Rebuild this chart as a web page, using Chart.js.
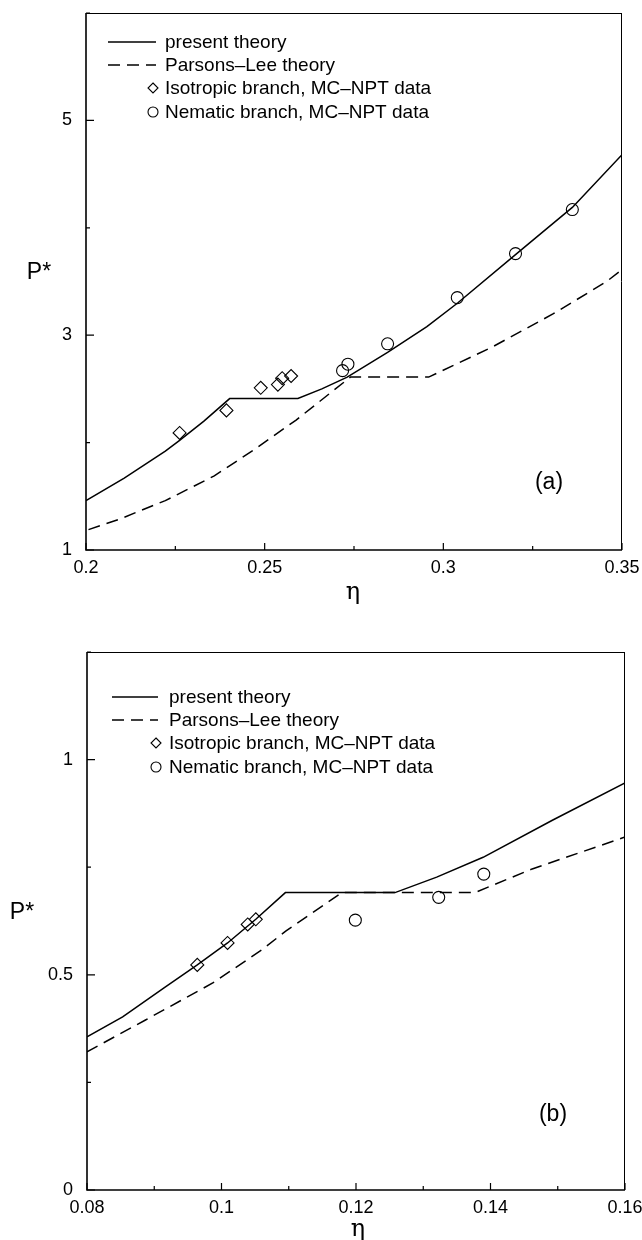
<!DOCTYPE html>
<html>
<head>
<meta charset="utf-8">
<script src="https://cdn.jsdelivr.net/npm/chart.js@4.4.0/dist/chart.umd.min.js"></script>
<style>
  html, body { margin: 0; padding: 0; background: #fff; }
  .wrap { position: absolute; left: 0; width: 642px; height: 620px; }
  #wrapA { top: 0; }
  #wrapB { top: 620px; }
</style>
</head>
<body>
<div class="wrap" id="wrapA"><canvas id="chartA" width="642" height="620"></canvas></div>
<div class="wrap" id="wrapB"><canvas id="chartB" width="642" height="620"></canvas></div>
<script>
// ---- panel (a) data ----
const etaPresentA = [0.200, 0.2107, 0.2222, 0.2262, 0.2330, 0.2402, 0.2593, 0.2660, 0.2731, 0.2844, 0.2954, 0.3040, 0.3202, 0.3361, 0.350];
const pPresentA   = [1.46, 1.67, 1.92, 2.02, 2.20, 2.41, 2.41, 2.50, 2.61, 2.84, 3.08, 3.30, 3.75, 4.19, 4.68];
const etaPLA = [0.2007, 0.2096, 0.2222, 0.2359, 0.2473, 0.2588, 0.2740, 0.2959, 0.3137, 0.3308, 0.3457, 0.350];
const pPLA   = [1.19, 1.29, 1.46, 1.69, 1.94, 2.21, 2.61, 2.61, 2.89, 3.20, 3.50, 3.61];
const etaIsoA = [0.2262, 0.2393, 0.2489, 0.2537, 0.2549, 0.2574];
const pIsoA   = [2.09, 2.30, 2.51, 2.54, 2.60, 2.62];
const etaNemA = [0.2718, 0.2733, 0.2844, 0.3039, 0.3202, 0.3361];
const pNemA   = [2.67, 2.73, 2.92, 3.35, 3.76, 4.17];
const xTicksA = [0.2, 0.225, 0.25, 0.275, 0.3, 0.325, 0.35];
const xLabelsA = ['0.2', '', '0.25', '', '0.3', '', '0.35'];
const yTicksA = [1, 2, 3, 4, 5, 6];
const yLabelsA = ['1', '', '3', '', '5', ''];

// ---- panel (b) data ----
const etaPresentB = [0.080, 0.0853, 0.0914, 0.0964, 0.1009, 0.1051, 0.1095, 0.1258, 0.1320, 0.1389, 0.1492, 0.160];
const pPresentB   = [0.356, 0.402, 0.469, 0.523, 0.574, 0.629, 0.691, 0.691, 0.727, 0.773, 0.859, 0.946];
const etaPLB = [0.080, 0.0887, 0.0987, 0.106, 0.1096, 0.1179, 0.1377, 0.1462, 0.160];
const pPLB   = [0.321, 0.395, 0.481, 0.558, 0.602, 0.691, 0.691, 0.746, 0.820];
const etaIsoB = [0.0964, 0.1009, 0.1039, 0.1051];
const pIsoB   = [0.523, 0.574, 0.617, 0.629];
const etaNemB = [0.1199, 0.1323, 0.1390];
const pNemB   = [0.627, 0.680, 0.734];
const xTicksB = [0.08, 0.09, 0.10, 0.11, 0.12, 0.13, 0.14, 0.15, 0.16];
const xLabelsB = ['0.08', '', '0.1', '', '0.12', '', '0.14', '', '0.16'];
const yTicksB = [0, 0.25, 0.5, 0.75, 1, 1.25];
const yLabelsB = ['0', '', '0.5', '', '1', ''];

const seriesNames = ['present theory', 'Parsons\u2013Lee theory', 'Isotropic branch, MC\u2013NPT data', 'Nematic branch, MC\u2013NPT data'];

Chart.defaults.font.family = "'Liberation Sans', Arial, Helvetica, sans-serif";
Chart.defaults.font.size = 18;
Chart.defaults.color = '#000';

function pts(xs, ys) {
  return xs.map((x, i) => ({ x: x, y: ys[i] }));
}

// frame, inward tick marks, legend and free labels
const decor = {
  id: 'decor',
  afterDatasetsDraw(chart, args, o) {
    const ctx = chart.ctx, a = chart.chartArea;
    const xs = chart.scales.x, ys = chart.scales.y;
    ctx.save();
    ctx.strokeStyle = '#000';
    // frame
    ctx.lineWidth = 1;
    ctx.beginPath();
    ctx.moveTo(a.left, a.top + 0.5); ctx.lineTo(a.right, a.top + 0.5);
    ctx.moveTo(a.right - 0.5, a.top); ctx.lineTo(a.right - 0.5, a.bottom);
    ctx.stroke();
    ctx.lineWidth = 1.6;
    ctx.beginPath();
    ctx.moveTo(a.left, a.top); ctx.lineTo(a.left, a.bottom);
    ctx.lineTo(a.right, a.bottom);
    ctx.stroke();
    // ticks
    ctx.lineWidth = 1.2;
    ctx.beginPath();
    xs.ticks.forEach(t => {
      const px = xs.getPixelForValue(t.value);
      const len = t.label ? 7 : 4;
      ctx.moveTo(px, a.bottom); ctx.lineTo(px, a.bottom - len);
    });
    ys.ticks.forEach(t => {
      const py = ys.getPixelForValue(t.value);
      const len = t.label ? 8 : 4;
      ctx.moveTo(a.left, py); ctx.lineTo(a.left + len, py);
    });
    ctx.stroke();

    // legend
    ctx.font = "19px 'Liberation Sans', Arial, sans-serif";
    ctx.textBaseline = 'middle';
    ctx.textAlign = 'left';
    ctx.fillStyle = '#000';
    chart.data.datasets.forEach((ds, i) => {
      const y = o.rows[i];
      ctx.lineWidth = 1.5;
      if (ds.showLine === false) {
        ctx.lineWidth = 1.1;
        ctx.beginPath();
        if (ds.pointStyle === 'rectRot') {
          const r = 5;
          ctx.moveTo(o.sym, y - r); ctx.lineTo(o.sym + r, y);
          ctx.lineTo(o.sym, y + r); ctx.lineTo(o.sym - r, y); ctx.closePath();
        } else {
          ctx.arc(o.sym, y, 5, 0, Math.PI * 2);
        }
        ctx.stroke();
      } else {
        ctx.setLineDash(ds.borderDash || []);
        ctx.beginPath();
        ctx.moveTo(o.line[0], y); ctx.lineTo(o.line[1], y);
        ctx.stroke();
        ctx.setLineDash([]);
      }
      ctx.fillText(ds.label, o.text, y + 1);
    });

    // axis names and panel label
    ctx.textAlign = 'center';
    ctx.font = "23px 'Liberation Sans', Arial, sans-serif";
    ctx.fillText('P*', o.pstar[0], o.pstar[1]);
    ctx.font = "24px 'DejaVu Serif', serif";
    ctx.fillText('\u03b7', o.eta[0], o.eta[1]);
    ctx.font = "23px 'Liberation Sans', Arial, sans-serif";
    ctx.fillText(o.panel, o.panelPos[0], o.panelPos[1]);
    ctx.restore();
  }
};

function makeChart(id, d) {
  return new Chart(document.getElementById(id).getContext('2d'), {
    type: 'line',
    data: {
      datasets: [
        { label: seriesNames[0], data: pts(d.presX, d.presY), borderColor: '#000', borderWidth: 1.5, pointRadius: 0, tension: 0 },
        { label: seriesNames[1], data: pts(d.plX, d.plY), borderColor: '#000', borderWidth: 1.5, borderDash: [12, 7], pointRadius: 0, tension: 0 },
        { label: seriesNames[2], data: pts(d.isoX, d.isoY), showLine: false, pointStyle: 'rectRot', pointRadius: 6.5,
          pointBorderWidth: 1.1, pointBorderColor: '#000', pointBackgroundColor: 'rgba(0,0,0,0)' },
        { label: seriesNames[3], data: pts(d.nemX, d.nemY), showLine: false, pointStyle: 'circle', pointRadius: 6,
          pointBorderWidth: 1.1, pointBorderColor: '#000', pointBackgroundColor: 'rgba(0,0,0,0)' }
      ]
    },
    options: {
      responsive: false,
      animation: false,
      events: [],
      layout: { padding: d.pad },
      plugins: {
        legend: { display: false },
        tooltip: { enabled: false },
        decor: d.decor
      },
      scales: {
        x: {
          type: 'linear', min: d.xTicks[0], max: d.xTicks[d.xTicks.length - 1],
          grid: { display: false, drawTicks: false },
          border: { display: false },
          afterBuildTicks: s => { s.ticks = d.xTicks.map(v => ({ value: v })); },
          ticks: { autoSkip: false, maxRotation: 0, padding: 7, callback: (v, i) => d.xLabels[i] },
          afterFit: s => { s.height = d.xH; s.paddingLeft = 0; s.paddingRight = 0; }
        },
        y: {
          type: 'linear', min: d.yTicks[0], max: d.yTicks[d.yTicks.length - 1],
          grid: { display: false, drawTicks: false },
          border: { display: false },
          afterBuildTicks: s => { s.ticks = d.yTicks.map(v => ({ value: v })); },
          ticks: { autoSkip: false, padding: 14, callback: (v, i) => d.yLabels[i] },
          afterFit: s => { s.width = d.yW; s.paddingTop = 0; s.paddingBottom = 0; }
        }
      }
    },
    plugins: [decor]
  });
}

makeChart('chartA', {
  presX: etaPresentA, presY: pPresentA, plX: etaPLA, plY: pPLA,
  isoX: etaIsoA, isoY: pIsoA, nemX: etaNemA, nemY: pNemA,
  xTicks: xTicksA, xLabels: xLabelsA, yTicks: yTicksA, yLabels: yLabelsA,
  pad: { top: 13, right: 20, left: 0, bottom: 0 }, xH: 70, yW: 86,
  decor: { rows: [42, 65, 88, 112], line: [108, 156], sym: 153, text: 165,
           pstar: [39, 273], eta: [353, 593], panel: '(a)', panelPos: [549, 483] }
});

makeChart('chartB', {
  presX: etaPresentB, presY: pPresentB, plX: etaPLB, plY: pPLB,
  isoX: etaIsoB, isoY: pIsoB, nemX: etaNemB, nemY: pNemB,
  xTicks: xTicksB, xLabels: xLabelsB, yTicks: yTicksB, yLabels: yLabelsB,
  pad: { top: 32, right: 17, left: 0, bottom: 0 }, xH: 50, yW: 87,
  decor: { rows: [77, 100, 123, 147], line: [112, 158], sym: 156, text: 169,
           pstar: [22, 293], eta: [358, 610], panel: '(b)', panelPos: [553, 495] }
});
</script>
</body>
</html>
